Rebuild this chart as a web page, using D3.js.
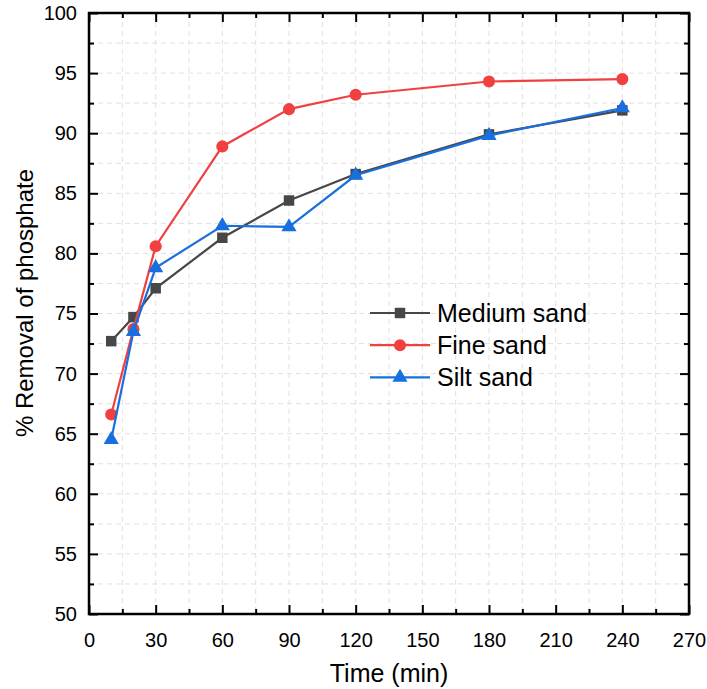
<!DOCTYPE html>
<html>
<head>
<meta charset="utf-8">
<script src="https://cdn.jsdelivr.net/npm/d3@7"></script>
<style>
  html, body { margin: 0; padding: 0; background: #fff; }
  svg { display: block; font-family: "Liberation Sans", Arial, sans-serif; }
</style>
</head>
<body>
<svg id="chart" width="707" height="689"></svg>
<script>
// Sampling times (min) and phosphate removal (%) for each sand type
const times = [10, 20, 30, 60, 90, 120, 180, 240];
const mediumSand = [72.7, 74.7, 77.1, 81.3, 84.4, 86.6, 89.9, 91.9];
const fineSand   = [66.6, 73.7, 80.6, 88.9, 92.0, 93.2, 94.3, 94.5];
const siltSand   = [64.5, 73.5, 78.8, 82.3, 82.2, 86.5, 89.8, 92.1];

const xTicks = [0, 30, 60, 90, 120, 150, 180, 210, 240, 270];
const yTicks = [50, 55, 60, 65, 70, 75, 80, 85, 90, 95, 100];
const seriesNames = ["Medium sand", "Fine sand", "Silt sand"];

const series = [
  { name: seriesNames[0], values: mediumSand, color: "#474747", symbol: d3.symbolSquare, size: 110 },
  { name: seriesNames[1], values: fineSand,   color: "#F14040", symbol: d3.symbolCircle, size: 115 },
  { name: seriesNames[2], values: siltSand,   color: "#1A6FDF", symbol: d3.symbolTriangle, size: 100 }
];

const svg = d3.select("#chart");
const plotL = 89, plotR = 689, plotT = 13, plotB = 614;

const x = d3.scaleLinear().domain([0, 270]).range([plotL, plotR]);
const y = d3.scaleLinear().domain([50, 100]).range([plotB, plotT]);

const minorX = d3.range(0, 271, 15);
const minorY = d3.range(50, 100.1, 2.5);

// Dashed grid at every major and minor tick
const grid = svg.append("g");
grid.selectAll("line.gx").data(minorX.filter(v => v > 0 && v < 270)).join("line")
  .attr("x1", d => x(d)).attr("x2", d => x(d))
  .attr("y1", plotT).attr("y2", plotB)
  .attr("stroke", "#e0e0e0").attr("stroke-width", 1).attr("stroke-dasharray", "5,4");
grid.selectAll("line.gy").data(minorY.filter(v => v > 50 && v < 100)).join("line")
  .attr("x1", plotL).attr("x2", plotR)
  .attr("y1", d => y(d)).attr("y2", d => y(d))
  .attr("stroke", "#e0e0e0").attr("stroke-width", 1).attr("stroke-dasharray", "5,4");

// Axes with inward ticks on all four sides
const tickStyle = g => {
  g.select(".domain").remove();
  g.selectAll(".tick line").attr("stroke", "#000").attr("stroke-width", 2);
};
const labelStyle = g => g.selectAll("text")
  .attr("font-size", 20).attr("fill", "#000")
  .attr("font-family", "Liberation Sans, Arial, sans-serif");

const majorLen = 9, minorLen = 5;
const minorXVals = minorX.filter(v => v % 30 !== 0);
const minorYVals = minorY.filter(v => v % 5 !== 0);

svg.append("g").attr("transform", `translate(0,${plotB})`)
  .call(d3.axisBottom(x).tickValues(minorXVals).tickSize(-minorLen).tickFormat(""))
  .call(tickStyle);
svg.append("g").attr("transform", `translate(0,${plotB})`)
  .call(d3.axisBottom(x).tickValues(xTicks).tickSize(-majorLen).tickPadding(majorLen + 10).tickFormat(d3.format("d")))
  .call(tickStyle).call(labelStyle);

svg.append("g").attr("transform", `translate(0,${plotT})`)
  .call(d3.axisTop(x).tickValues(minorXVals).tickSize(-minorLen).tickFormat(""))
  .call(tickStyle);
svg.append("g").attr("transform", `translate(0,${plotT})`)
  .call(d3.axisTop(x).tickValues(xTicks).tickSize(-majorLen).tickFormat(""))
  .call(tickStyle);

svg.append("g").attr("transform", `translate(${plotL},0)`)
  .call(d3.axisLeft(y).tickValues(minorYVals).tickSize(-minorLen).tickFormat(""))
  .call(tickStyle);
svg.append("g").attr("transform", `translate(${plotL},0)`)
  .call(d3.axisLeft(y).tickValues(yTicks).tickSize(-majorLen).tickPadding(12).tickFormat(d3.format("d")))
  .call(tickStyle).call(labelStyle);

svg.append("g").attr("transform", `translate(${plotR},0)`)
  .call(d3.axisRight(y).tickValues(minorYVals).tickSize(-minorLen).tickFormat(""))
  .call(tickStyle);
svg.append("g").attr("transform", `translate(${plotR},0)`)
  .call(d3.axisRight(y).tickValues(yTicks).tickSize(-majorLen).tickFormat(""))
  .call(tickStyle);

// Frame
svg.append("rect")
  .attr("x", plotL).attr("y", plotT).attr("width", plotR - plotL).attr("height", plotB - plotT)
  .attr("fill", "none").attr("stroke", "#000").attr("stroke-width", 2.5);

// Series lines and markers
const line = d3.line().x((d, i) => x(times[i])).y(d => y(d));
series.forEach(s => {
  const g = svg.append("g");
  g.append("path").datum(s.values)
    .attr("d", line).attr("fill", "none")
    .attr("stroke", s.color).attr("stroke-width", 2.2);
  g.selectAll("path.pt").data(s.values).join("path")
    .attr("class", "pt")
    .attr("transform", (d, i) => `translate(${x(times[i])},${y(d)})`)
    .attr("d", d3.symbol().type(s.symbol).size(s.size))
    .attr("fill", s.color);
});

// Legend
const legend = svg.append("g").attr("transform", "translate(370,313)");
series.forEach((s, i) => {
  const row = legend.append("g").attr("transform", `translate(0,${i * 32.2})`);
  row.append("line").attr("x1", 0).attr("x2", 60).attr("y1", 0).attr("y2", 0)
    .attr("stroke", s.color).attr("stroke-width", 2.2);
  row.append("path").attr("transform", "translate(30,0)")
    .attr("d", d3.symbol().type(s.symbol).size(s.size)).attr("fill", s.color);
  row.append("text").attr("x", 67).attr("y", 9)
    .attr("font-size", 25).attr("fill", "#000").text(s.name);
});

// Axis titles
svg.append("text")
  .attr("x", (plotL + plotR) / 2).attr("y", 682)
  .attr("text-anchor", "middle").attr("font-size", 25).attr("fill", "#000")
  .text("Time (min)");
svg.append("text")
  .attr("transform", "translate(33,303) rotate(-90)")
  .attr("text-anchor", "middle").attr("font-size", 24).attr("fill", "#000")
  .text("% Removal of phosphate");
</script>
</body>
</html>
